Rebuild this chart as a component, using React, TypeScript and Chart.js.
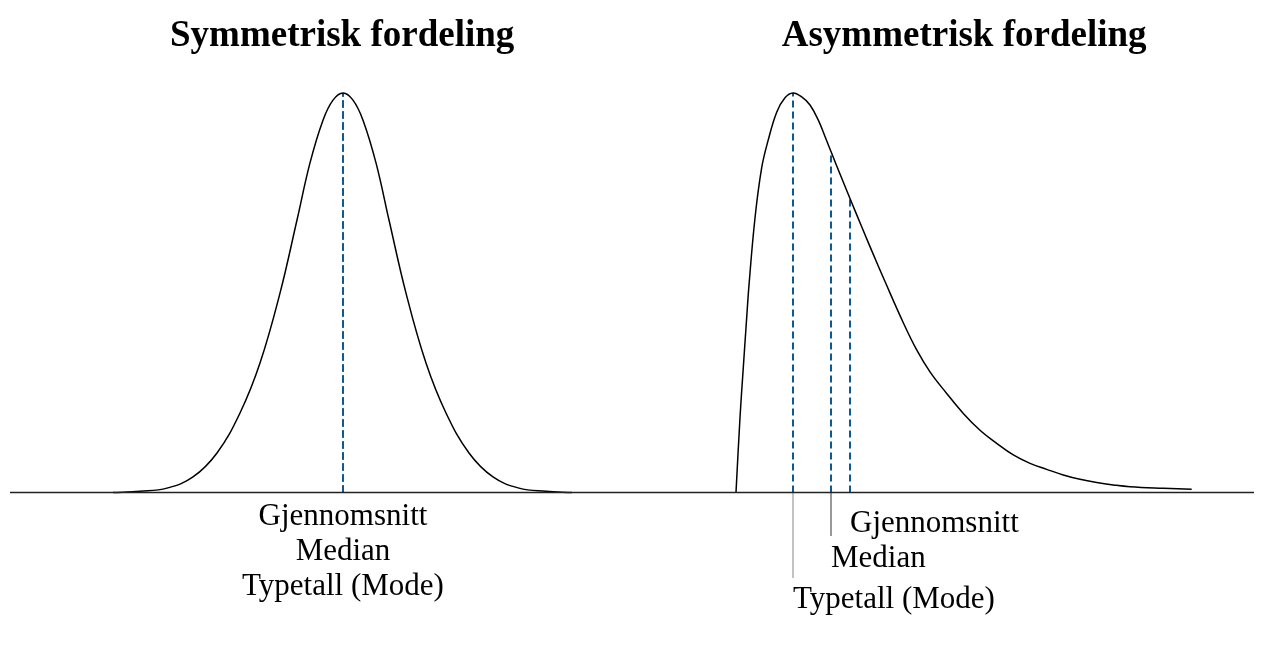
import React, { useEffect, useRef } from "react";
import { Chart, registerables } from "chart.js";

Chart.register(...registerables);

// ---- Data (x = distance from the mode, y = density relative to the peak) ----
const SYM_TITLE = "Symmetrisk fordeling";
const SKEW_TITLE = "Asymmetrisk fordeling";

const SYM_X = [-230, -203, -176, -150, -126, -103, -83, -63, -46, -33, -20, -10, 0, 10, 20, 33, 46, 63, 83, 103, 126, 150, 176, 203, 229];
const SYM_Y = [0, 0.003, 0.011, 0.039, 0.099, 0.199, 0.324, 0.499, 0.682, 0.825, 0.932, 0.982, 1, 0.982, 0.932, 0.825, 0.682, 0.499, 0.324, 0.199, 0.099, 0.039, 0.011, 0.003, 0];

const SKEW_X = [-57, -53, -49.7, -46.3, -44, -38, -31.3, -25, -16.3, -8, 0, 8.7, 17, 25.3, 32, 38.7, 47, 57, 68.7, 80.3, 92, 110.3, 123.7, 137, 153.7, 170.3, 187, 203.7, 220.3, 237, 253.7, 270.3, 287, 303.7, 320.3, 337, 370.3, 398.7];
const SKEW_Y = [0, 0.188, 0.313, 0.438, 0.519, 0.687, 0.813, 0.88, 0.952, 0.988, 1, 0.99, 0.97, 0.932, 0.891, 0.849, 0.797, 0.736, 0.665, 0.596, 0.528, 0.425, 0.357, 0.302, 0.248, 0.198, 0.156, 0.123, 0.094, 0.073, 0.058, 0.044, 0.033, 0.025, 0.019, 0.0145, 0.0105, 0.008];

const SYM_RANGE = [-333, 289];
const SKEW_RANGE = [-161, 461];

// marker lines: mode, median, mean
const SYM_MARK_X = [0, 0, 0];
const SYM_MARK_H = [1, 1, 1];
const SKEW_MARK_X = [0, 38, 57];
const SKEW_MARK_H = [1, 0.852, 0.736];

// leader lines below the axis (mode, median)
const SKEW_LEADER_X = [0, 38];
const SKEW_LEADER_END = [-0.214, -0.109];

const LABELS = ["Gjennomsnitt", "Median", "Typetall (Mode)"];
const SYM_LABEL_X = [0, 0, 0];
const SYM_LABEL_Y = [-0.081, -0.169, -0.257];
const SKEW_LABEL_X = [57, 38, 0];
const SKEW_LABEL_Y = [-0.099, -0.186, -0.289];

const BLUE = "#0b5a96";
const LABEL_FONT = "31px 'Liberation Serif', serif";
const TITLE_FONT = "bold 37px 'Liberation Serif', serif";

type Panel = {
  title: string;
  xs: number[];
  ys: number[];
  range: number[];
  markX: number[];
  markH: number[];
  leaderX: number[];
  leaderEnd: number[];
  labelX: number[];
  labelY: number[];
  align: "center" | "left";
  padLeft: number;
  padRight: number;
  width: number;
};

const PANELS: Panel[] = [
  {
    title: SYM_TITLE, xs: SYM_X, ys: SYM_Y, range: SYM_RANGE,
    markX: SYM_MARK_X, markH: SYM_MARK_H, leaderX: [], leaderEnd: [],
    labelX: SYM_LABEL_X, labelY: SYM_LABEL_Y, align: "center",
    padLeft: 10, padRight: 0, width: 632,
  },
  {
    title: SKEW_TITLE, xs: SKEW_X, ys: SKEW_Y, range: SKEW_RANGE,
    markX: SKEW_MARK_X, markH: SKEW_MARK_H, leaderX: SKEW_LEADER_X, leaderEnd: SKEW_LEADER_END,
    labelX: SKEW_LABEL_X, labelY: SKEW_LABEL_Y, align: "left",
    padLeft: 0, padRight: 20, width: 642,
  },
];

const HEIGHT = 656;

function PanelChart({ p }: { p: Panel }) {
  const ref = useRef<HTMLCanvasElement | null>(null);
  useEffect(() => {
    if (!ref.current) return;
    const datasets: any[] = [];
    datasets.push({
      data: [{ x: p.range[0], y: 0 }, { x: p.range[1], y: 0 }],
      borderColor: "#222", borderWidth: 1.5, pointRadius: 0, tension: 0,
    });
    datasets.push({
      data: p.xs.map((x, i) => ({ x, y: p.ys[i] })),
      borderColor: "#000", borderWidth: 1.5, pointRadius: 0,
      tension: 0.4,
    });
    p.leaderX.forEach((x, i) => {
      datasets.push({
        data: [{ x, y: 0 }, { x, y: p.leaderEnd[i] }],
        borderColor: i === 0 ? "#9a9a9a" : "#555", borderWidth: 1.2, pointRadius: 0, tension: 0,
      });
    });
    p.markX.forEach((x, i) => {
      datasets.push({
        data: [{ x, y: 0 }, { x, y: p.markH[i] }],
        borderColor: BLUE, borderWidth: 2, borderDash: [7, 4], pointRadius: 0, tension: 0,
      });
    });

    const textPlugin = {
      id: "panelText",
      afterDraw(chart: any) {
        const ctx = chart.ctx;
        const xs = chart.scales.x;
        const ys = chart.scales.y;
        const area = chart.chartArea;
        ctx.save();
        ctx.fillStyle = "#000";
        ctx.font = TITLE_FONT;
        ctx.textAlign = "center";
        ctx.textBaseline = "alphabetic";
        ctx.fillText(p.title, area.left + 0.534 * (area.right - area.left), 46);
        ctx.font = LABEL_FONT;
        ctx.textAlign = p.align;
        LABELS.forEach((t, i) => {
          ctx.fillText(t, xs.getPixelForValue(p.labelX[i]), ys.getPixelForValue(p.labelY[i]));
        });
        ctx.restore();
      },
    };

    const chart = new Chart(ref.current, {
      type: "line",
      data: { datasets },
      options: {
        animation: false,
        responsive: false,
        devicePixelRatio: 1,
        layout: { padding: { left: p.padLeft, right: p.padRight, top: 73, bottom: 43.6 } },
        plugins: { legend: { display: false }, tooltip: { enabled: false }, title: { display: false } },
        scales: {
          x: { type: "linear", min: p.range[0], max: p.range[1], display: false },
          y: { type: "linear", min: -0.3, max: 1.05, display: false },
        },
      },
      plugins: [textPlugin],
    } as any);
    return () => chart.destroy();
  }, [p]);
  return (
    <canvas
      ref={ref}
      width={p.width}
      height={HEIGHT}
      style={{ width: p.width, height: HEIGHT, display: "block" }}
    />
  );
}

export default function App() {
  useEffect(() => {
    document.body.style.margin = "0";
    document.body.style.background = "#fff";
  }, []);
  return (
    <div style={{ display: "flex", width: 1274, height: HEIGHT, background: "#fff", overflow: "hidden" }}>
      {PANELS.map((p, i) => (
        <PanelChart key={i} p={p} />
      ))}
    </div>
  );
}
